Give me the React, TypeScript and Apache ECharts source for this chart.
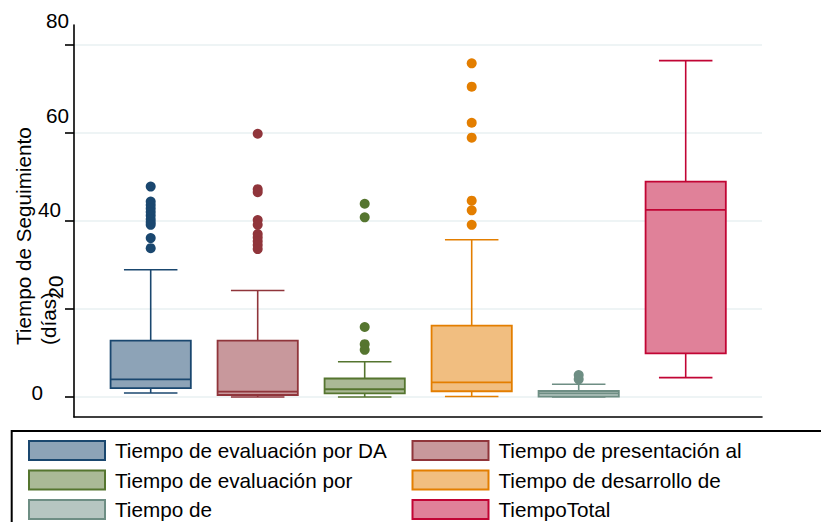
import React, { useEffect, useRef } from 'react';
import * as echarts from 'echarts';

// ---------- data ----------
const categories = [
  'Tiempo de evaluación por DA',
  'Tiempo de presentación al',
  'Tiempo de evaluación por',
  'Tiempo de desarrollo de',
  'Tiempo de',
  'TiempoTotal',
];

// [min, Q1, median, Q3, max] (whisker ends)
const boxEvalDA = [0.9, 2.0, 4.0, 12.8, 28.9];
const boxPresent = [0.0, 0.45, 1.2, 12.8, 24.2];
const boxEvalPor = [0.0, 0.8, 1.75, 4.2, 8.0];
const boxDesarrollo = [0.1, 1.3, 3.3, 16.2, 35.7];
const boxTiempoDe = [0.0, 0.07, 0.8, 1.36, 2.9];
const boxTotal = [4.4, 9.9, 42.5, 48.9, 76.4];

// outside values
const outEvalDA = [47.8, 44.4, 43.6, 42.8, 42.0, 41.2, 40.4, 39.7, 39.1, 36.1, 33.8];
const outPresent = [59.8, 47.2, 46.5, 40.2, 39.1, 37.0, 36.2, 35.4, 34.5, 33.6];
const outEvalPor = [43.9, 40.8, 15.9, 12.0, 10.7];
const outDesarrollo = [75.8, 70.5, 62.3, 58.9, 44.6, 42.4, 39.1];
const outTiempoDe = [5.0, 4.0];
const outTotal: number[] = [];

const yTicks = [0, 20, 40, 60, 80];
const yTitle = 'Tiempo de Seguimiento\n(días)';

const boxes = [boxEvalDA, boxPresent, boxEvalPor, boxDesarrollo, boxTiempoDe, boxTotal];
const outliers = [outEvalDA, outPresent, outEvalPor, outDesarrollo, outTiempoDe, outTotal];

// ---------- styles ----------
const strokes = ['#1a476f', '#90353b', '#55752f', '#e37e00', '#6e8e84', '#c10534'];
const fills = ['#8da3b7', '#c8989c', '#aab996', '#f1be80', '#b6c6c1', '#e08199'];
const FONT = '"Liberation Sans", Arial, sans-serif';
const FS = 20.7;
const Y_MIN = -4.55;
const Y_MAX = 84.5;

const makeRender = (stroke: string, fill: string) => (params: any, api: any) => {
  const x = api.value(0);
  const v = [1, 2, 3, 4, 5].map((i) => api.value(i));
  const band = api.size([1, 0])[0];
  const half = band * 0.375;
  const capHalf = band * 0.25;
  const cx = api.coord([x, v[0]])[0];
  const yMin = api.coord([x, v[0]])[1];
  const yQ1 = api.coord([x, v[1]])[1];
  const yMed = api.coord([x, v[2]])[1];
  const yQ3 = api.coord([x, v[3]])[1];
  const yMax = api.coord([x, v[4]])[1];
  const ls = { stroke, lineWidth: 1.6 };
  return {
    type: 'group',
    children: [
      { type: 'line', shape: { x1: cx, y1: yMax, x2: cx, y2: yQ3 }, style: ls },
      { type: 'line', shape: { x1: cx, y1: yQ1, x2: cx, y2: yMin }, style: ls },
      { type: 'line', shape: { x1: cx - capHalf, y1: yMax, x2: cx + capHalf, y2: yMax }, style: ls },
      { type: 'line', shape: { x1: cx - capHalf, y1: yMin, x2: cx + capHalf, y2: yMin }, style: ls },
      {
        type: 'rect',
        shape: { x: cx - half, y: yQ3, width: half * 2, height: yQ1 - yQ3 },
        style: { fill, stroke, lineWidth: 1.8 },
      },
      { type: 'line', shape: { x1: cx - half, y1: yMed, x2: cx + half, y2: yMed }, style: { stroke, lineWidth: 1.8 } },
    ],
  };
};

const labelAxis = (val: number, margin: number, extra: any = {}) => ({
  type: 'value',
  gridIndex: 0,
  position: 'left',
  min: Y_MIN,
  max: Y_MAX,
  axisLine: { show: false },
  axisTick: { show: false },
  splitLine: { show: false },
  axisLabel: {
    customValues: [val],
    margin,
    fontSize: FS,
    color: '#000',
    fontFamily: FONT,
    ...extra,
  },
});

export default function App() {
  const ref = useRef<HTMLDivElement>(null);
  useEffect(() => {
    if (!ref.current) return;
    const chart = echarts.init(ref.current, undefined, { renderer: 'svg' });
    const series: any[] = [];
    categories.forEach((name, i) => {
      series.push({
        type: 'custom',
        name,
        coordinateSystem: 'cartesian2d',
        xAxisIndex: 1,
        yAxisIndex: 5,
        itemStyle: { color: fills[i], borderColor: strokes[i] },
        encode: { x: 0, y: [1, 2, 3, 4, 5] },
        renderItem: makeRender(strokes[i], fills[i]),
        data: [[i, ...boxes[i]]],
        silent: true,
      });
      series.push({
        type: 'scatter',
        name,
        xAxisIndex: 1,
        yAxisIndex: 5,
        symbol: 'circle',
        symbolSize: 10,
        itemStyle: { color: strokes[i], opacity: 1 },
        data: outliers[i].map((v) => [i, v]),
        silent: true,
      });
    });

    chart.setOption({
      animation: false,
      backgroundColor: '#fff',
      textStyle: { fontFamily: FONT },
      grid: [
        { left: 74, right: 59, top: 25, bottom: 105, outerBoundsMode: 'none', containLabel: false },
        { left: 97.2, right: 81.8, top: 25, bottom: 105, outerBoundsMode: 'none', containLabel: false },
      ],
      xAxis: [
        {
          type: 'value',
          gridIndex: 0,
          min: 0,
          max: 1,
          position: 'bottom',
          axisLine: { show: true, onZero: false, lineStyle: { color: '#000', width: 1.6 } },
          axisTick: { show: false },
          axisLabel: { show: false },
          splitLine: { show: false },
        },
        {
          type: 'category',
          gridIndex: 1,
          data: categories,
          show: false,
        },
      ],
      yAxis: [
        {
          type: 'value',
          gridIndex: 0,
          position: 'left',
          min: Y_MIN,
          max: Y_MAX,
          axisLine: { show: true, onZero: false, lineStyle: { color: '#000', width: 1.6 } },
          axisTick: { show: true, customValues: yTicks, length: 9, lineStyle: { color: '#000', width: 1.6 } },
          splitLine: { show: true, lineStyle: { color: '#e8f0f2', width: 1.5 } },
          axisLabel: {
            customValues: [yTicks[4]],
            margin: 5,
            verticalAlign: 'bottom',
            lineHeight: 49,
            fontSize: FS,
            color: '#000',
            fontFamily: FONT,
          },
        },
        labelAxis(yTicks[3], 5, { verticalAlign: 'bottom', lineHeight: 35 }),
        labelAxis(yTicks[2], 13, { verticalAlign: 'bottom', lineHeight: 22 }),
        labelAxis(yTicks[0], 31, { verticalAlign: 'bottom', lineHeight: 9 }),
        labelAxis(yTicks[1], 8, { rotate: 90, padding: [0, 0, 0, 44] }),
        { type: 'value', gridIndex: 1, min: Y_MIN, max: Y_MAX, show: false },
      ],
      legend: {
        left: 28,
        top: 440,
        width: 780,
        padding: 0,
        itemGap: 8.5,
        itemWidth: 76,
        itemHeight: 19,
        selectedMode: false,
        data: categories.map((c, i) => ({
          name: c,
          icon: 'rect',
          itemStyle: { color: fills[i], borderColor: strokes[i], borderWidth: 2 },
        })),
        formatter: (n: string) => `{a|${n}}`,
        textStyle: {
          rich: {
            a: { width: 288, padding: [0, 0, 0, 5], fontSize: FS, lineHeight: 19, color: '#000', fontFamily: FONT },
          },
        },
      },
      graphic: [
        {
          type: 'rect',
          shape: { x: 11.7, y: 431, width: 900, height: 200 },
          style: { fill: 'none', stroke: '#000', lineWidth: 2 },
          silent: true,
        },
        {
          type: 'text',
          x: 10.5,
          y: 345,
          rotation: Math.PI / 2,
          style: {
            text: yTitle,
            font: `${FS}px ${FONT}`,
            lineHeight: 25,
            align: 'left',
            verticalAlign: 'top',
            fill: '#000',
          },
          silent: true,
        },
      ],
      series,
    });
    return () => chart.dispose();
  }, []);
  return (
    <div
      ref={ref}
      style={{ position: 'fixed', left: 0, top: 0, width: 821, height: 522, background: '#fff' }}
    />
  );
}
